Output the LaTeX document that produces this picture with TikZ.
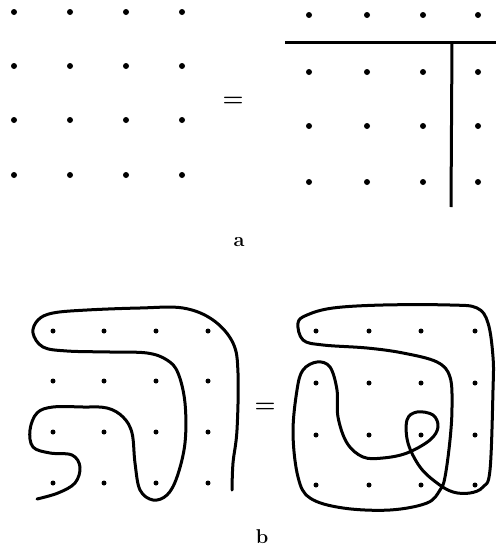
\documentclass[tikz,border=0pt]{standalone}
\usepackage{tikz}
\usetikzlibrary{positioning}

\begin{document}
\begin{tikzpicture}[x=1pt,y=-1pt,
    dot/.style={circle, fill=black, inner sep=0pt, minimum size=6pt},
    smalldot/.style={circle, fill=black, inner sep=0pt, minimum size=5pt},
    cut/.style={line width=3pt},
    strand/.style={line width=3pt, line cap=round, line join=round},
    eqsign/.style={font=\fontsize{24}{26}\selectfont\bfseries},
    lbl/.style={font=\fontsize{20}{22}\selectfont\bfseries}
  ]
  \useasboundingbox (0,0) rectangle (496,549);

  % panel a, left lattice
  \foreach \i/\x in {1/14,2/70,3/126,4/182}
    \foreach \j/\y in {1/12,2/66,3/120,4/175}
      \node[dot] (al\i\j) at (\x,\y) {};
  \node[eqsign] (eqa) at (233,102) {=};

  % panel a, right lattice with the cut
  \foreach \i/\x in {1/309,2/367,3/423,4/478}
    \foreach \j/\y in {1/15,2/72,3/126,4/182}
      \node[dot] (ar\i\j) at (\x,\y) {};
  \coordinate (hl) at (285,42);
  \coordinate (hr) at (496,42);
  \coordinate (vt) at (452,42);
  \coordinate (vb) at (451,207);
  \draw[cut] (hl) -- (hr);
  \draw[cut] (vt) -- (vb);
  \node[lbl] (la) at (239,242) {a};

  % panel b, left lattice
  \foreach \i/\x in {1/53,2/104,3/156,4/208}
    \foreach \j/\y in {1/331,2/381,3/432,4/483}
      \node[smalldot] (bl\i\j) at (\x,\y) {};
  \draw[strand] plot[smooth, tension=0.6] coordinates {
    (37,499) (58,493) (75,483) (80,467) (72,455) (50,453) (33,447)
    (30,430) (37,413) (53,407) (83,407) (107,408) (123,417) (132,433)
    (135,463) (140,490) (153,500) (167,495) (177,477) (185,443)
    (185,403) (178,373) (167,360) (147,353) (110,352) (67,351)
    (43,347) (33,333) (38,320) (53,313) (87,310) (140,308) (183,308)
    (213,320) (233,343) (238,373) (237,430) (233,463) (232,490)};
  \node[eqsign] (eqb) at (265,408) {=};

  % panel b, right lattice
  \foreach \i/\x in {1/316,2/369,3/421,4/475}
    \foreach \j/\y in {1/331,2/383,3/435,4/485}
      \node[smalldot] (br\i\j) at (\x,\y) {};
  \draw[strand] plot[smooth cycle, tension=0.6] coordinates {
    (298,323) (303,340) (323,345) (367,348) (403,353) (437,362)
    (450,377) (452,407) (450,440) (445,477) (440,490) (427,503)
    (390,510) (343,508) (310,498) (298,477) (293,433) (297,390)
    (303,370) (317,362) (330,367) (337,390) (338,417) (347,443)
    (363,457) (383,458) (407,453) (430,440) (438,427) (433,415)
    (417,412) (407,420) (408,443) (420,467) (437,483) (453,492)
    (470,493) (483,487) (490,470) (493,390) (493,357) (488,323)
    (477,308) (450,305) (383,305) (333,308) (307,315)};
  \node[lbl] (lb) at (262,537) {b};
\end{tikzpicture}
\end{document}
